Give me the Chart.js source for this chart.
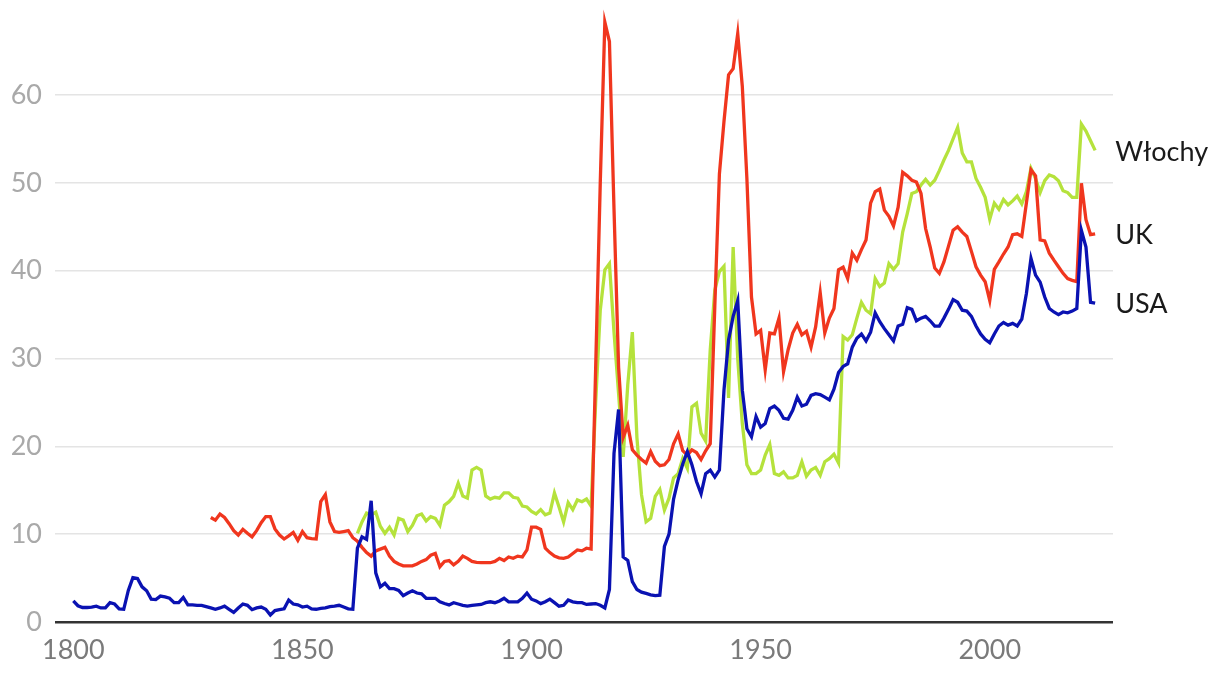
<!DOCTYPE html>
<html><head><meta charset="utf-8">
<script src="https://cdn.jsdelivr.net/npm/chart.js@4.4.1/dist/chart.umd.min.js"></script>
<style>html,body{margin:0;padding:0;background:#fff}canvas{display:block}</style>
</head><body>
<canvas id="c" width="1220" height="678"></canvas>
<script>
// ---- data (share of GDP, %) ----
const usaStart = 1800;
const usaValues = [
  2.4,1.85,1.65,1.65,1.7,1.8,1.6,1.6,2.2,2.05,
  1.5,1.45,3.6,5.05,4.95,4.0,3.55,2.6,2.55,2.95,
  2.85,2.7,2.2,2.2,2.8,1.95,1.95,1.9,1.9,1.75,
  1.6,1.45,1.6,1.8,1.45,1.1,1.6,2.05,1.9,1.4,
  1.6,1.7,1.45,0.8,1.3,1.4,1.5,2.5,2.05,1.95,
  1.7,1.8,1.5,1.45,1.55,1.6,1.75,1.8,1.9,1.7,
  1.5,1.45,8.4,9.7,9.4,13.8,5.6,4.0,4.4,3.8,
  3.8,3.6,3.0,3.3,3.55,3.3,3.2,2.7,2.7,2.7,
  2.3,2.1,1.95,2.2,2.05,1.9,1.8,1.9,1.95,2.0,
  2.2,2.3,2.2,2.4,2.7,2.3,2.3,2.3,2.7,3.3,
  2.6,2.4,2.1,2.3,2.6,2.2,1.8,1.9,2.5,2.3,
  2.2,2.2,2.0,2.05,2.1,1.9,1.6,3.7,19.2,24.2,
  7.4,7.0,4.6,3.7,3.4,3.25,3.1,3.0,3.05,8.6,
  10.0,14.0,16.2,18.0,19.4,17.9,16.0,14.6,16.9,17.3,
  16.5,17.3,26.4,32.1,34.8,36.6,26.4,22.0,21.1,23.4,
  22.2,22.6,24.3,24.6,24.1,23.2,23.1,24.1,25.6,24.6,
  24.8,25.8,26.0,25.9,25.6,25.3,26.5,28.4,29.1,29.4,
  31.3,32.3,32.8,32.0,33.0,35.2,34.2,33.4,32.7,32.0,
  33.7,33.9,35.8,35.6,34.3,34.6,34.8,34.3,33.7,33.7,
  34.6,35.6,36.7,36.4,35.5,35.4,34.8,33.7,32.8,32.2,
  31.8,32.8,33.7,34.1,33.8,34.0,33.7,34.5,37.4,41.4,
  39.5,38.7,37.0,35.7,35.3,35.0,35.3,35.2,35.4,35.7,
  44.6,42.7,36.4,36.3
];
const ukStart = 1830;
const ukValues = [
  11.9,11.6,12.3,11.9,11.2,10.4,9.9,10.55,10.1,9.7,
  10.4,11.3,12.0,12.0,10.6,9.9,9.45,9.8,10.2,9.3,
  10.3,9.6,9.5,9.45,13.7,14.5,11.4,10.3,10.2,10.3,
  10.4,9.6,9.2,8.5,7.9,7.5,8.1,8.3,8.5,7.5,
  6.9,6.6,6.4,6.4,6.4,6.6,6.9,7.1,7.6,7.8,
  6.3,6.9,7.0,6.5,6.9,7.5,7.25,6.9,6.8,6.75,
  6.75,6.75,6.9,7.25,7.0,7.4,7.25,7.5,7.4,8.2,
  10.8,10.8,10.55,8.4,7.9,7.5,7.3,7.25,7.4,7.8,
  8.2,8.1,8.4,8.3,29,50,68.3,66.1,47,29,
  21.0,22.4,19.6,19.0,18.5,18.1,19.4,18.3,17.8,17.9,
  18.5,20.3,21.4,19.5,19.0,19.6,19.3,18.5,19.5,20.3,
  36,51,57,62.3,63.0,67.0,61.0,50.5,37.0,32.8,
  33.2,28.7,32.9,32.8,34.6,28.5,31.0,32.9,33.9,32.7,
  33.1,31.3,33.6,37.5,32.9,34.6,35.7,40.1,40.4,39.1,
  42.0,41.2,42.4,43.5,47.7,49.0,49.3,46.9,46.2,45.1,
  47.2,51.2,50.8,50.3,50.1,48.8,44.8,42.7,40.3,39.7,
  41.0,42.8,44.6,45.0,44.4,43.9,42.2,40.45,39.5,38.75,
  36.6,40.15,41.0,41.9,42.7,44.1,44.2,43.9,47.7,51.5,
  50.8,43.5,43.4,42.0,41.2,40.45,39.7,39.1,38.9,38.75,
  49.95,45.8,44.1,44.2
];
const italyStart = 1862;
const italyValues = [
  10.1,11.4,12.4,12.2,12.5,10.9,10.1,10.8,
  9.9,11.8,11.6,10.3,11.0,12.1,12.3,11.5,12.0,11.8,
  11.0,13.3,13.7,14.3,15.8,14.35,14.1,17.3,17.6,17.3,
  14.35,14.0,14.2,14.1,14.7,14.7,14.2,14.1,13.2,13.1,
  12.6,12.3,12.8,12.2,12.4,14.7,13.1,11.4,13.6,12.8,
  13.9,13.7,14.0,13.2,25,35.5,40.1,40.8,33,26,
  18.8,27,33.0,21,14.5,11.4,11.8,14.3,15.1,12.75,
  14.1,16.4,16.9,18.6,17.5,24.5,24.9,21.5,20.6,31,
  37.8,39.9,40.5,25.5,42.7,30,22.6,17.9,16.9,16.9,
  17.3,19.0,20.2,16.9,16.7,17.1,16.4,16.4,16.7,18.25,
  16.6,17.3,17.6,16.7,18.25,18.6,19.1,18.1,32.5,32.1,
  32.7,34.6,36.4,35.5,35.1,39.1,38.2,38.6,40.8,40.15,
  40.8,44.4,46.5,48.8,49.0,49.75,50.4,49.75,50.3,51.4,
  52.6,53.7,55.0,56.3,53.4,52.4,52.4,50.5,49.5,48.35,
  45.85,47.7,47.0,48.1,47.5,47.95,48.5,47.6,49.0,51.65,
  50.5,48.9,50.25,50.9,50.7,50.25,49.1,48.9,48.35,48.35,
  56.7,55.9,54.8,53.7
];
const xTickYears = [1800, 1850, 1900, 1950, 2000];
const yTickValues = [0, 10, 20, 30, 40, 50, 60];
const seriesLabels = ['USA', 'UK', 'Włochy'];
const seriesColors = ['#0a12b2', '#f0361e', '#b5e23c'];

function toPoints(start, values) {
  return values.map((v, i) => ({ x: start + i, y: v }));
}

const endLabels = {
  id: 'endLabels',
  afterDatasetsDraw(chart) {
    const ctx = chart.ctx;
    ctx.save();
    ctx.font = '27px Lato';
    ctx.fillStyle = '#1a1a1a';
    ctx.textAlign = 'left';
    ctx.textBaseline = 'middle';
    chart.data.datasets.forEach((ds, i) => {
      const meta = chart.getDatasetMeta(i);
      const last = meta.data[meta.data.length - 1];
      ctx.fillText(ds.label, last.x + 20, last.y + 1.5);
    });
    ctx.restore();
  }
};

const seriesData = [
  toPoints(usaStart, usaValues),
  toPoints(ukStart, ukValues),
  toPoints(italyStart, italyValues)
];

new Chart(document.getElementById('c'), {
  type: 'line',
  data: {
    datasets: seriesData.map((d, i) => ({
      label: seriesLabels[i],
      data: d,
      borderColor: seriesColors[i],
      backgroundColor: seriesColors[i],
      borderWidth: 3.3,
      pointRadius: 0,
      tension: 0,
      fill: false,
      clip: false
    }))
  },
  options: {
    responsive: false,
    animation: false,
    devicePixelRatio: 1,
    layout: { padding: { top: 0, right: 107, bottom: 0, left: 0 } },
    plugins: { legend: { display: false }, tooltip: { enabled: false } },
    scales: {
      x: {
        type: 'linear',
        min: 1796,
        max: 2026.9,
        afterBuildTicks: s => { s.ticks = xTickYears.map(v => ({ value: v })); },
        afterFit: s => { s.height = 56; },
        grid: { display: false, drawTicks: false },
        border: { display: false },
        ticks: {
          callback: v => String(v),
          color: '#7a7a7a',
          font: { family: 'Lato', size: 27 },
          padding: 12,
          autoSkip: false,
          maxRotation: 0,
          minRotation: 0
        }
      },
      y: {
        type: 'linear',
        min: 0,
        max: 67.5,
        afterBuildTicks: s => { s.ticks = yTickValues.map(v => ({ value: v })); },
        afterFit: s => { s.width = 55; },
        grid: {
          drawTicks: false,
          color: c => (c.tick && c.tick.value === 0) ? '#333333' : '#e4e4e4',
          lineWidth: c => (c.tick && c.tick.value === 0) ? 2.5 : 1.5
        },
        border: { display: false },
        ticks: {
          callback: v => String(v),
          color: '#a9a9a9',
          font: { family: 'Lato', size: 27 },
          padding: 13
        }
      }
    }
  },
  plugins: [endLabels]
});
</script>
</body></html>
